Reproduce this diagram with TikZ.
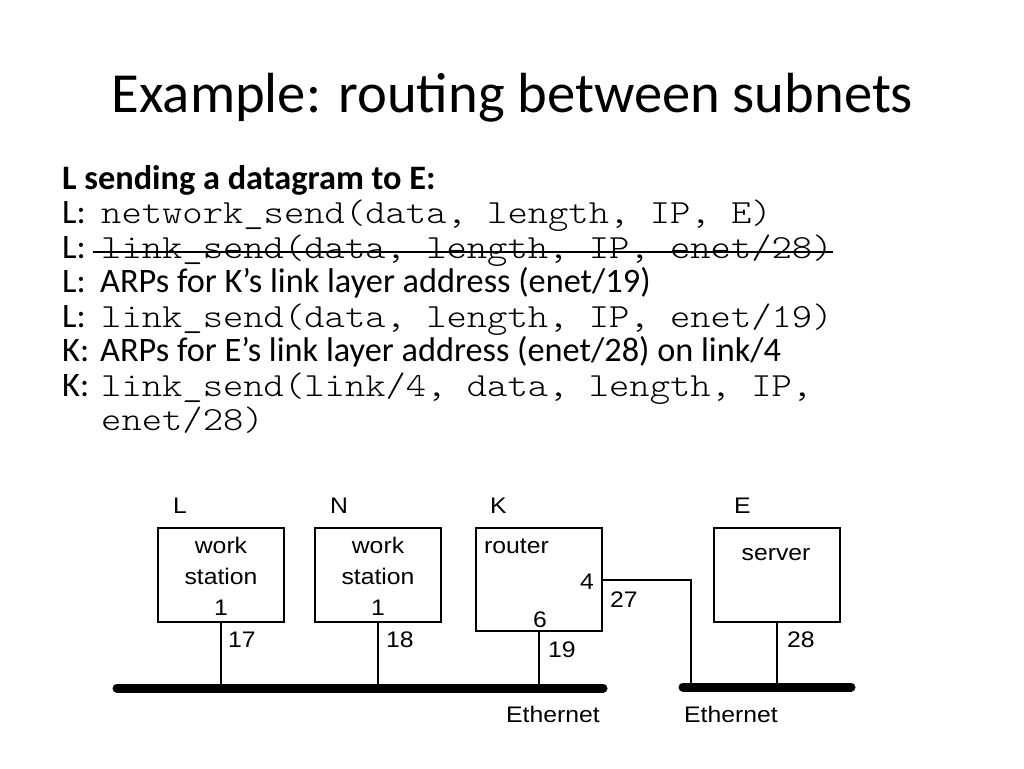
\documentclass[tikz,border=0pt]{standalone}
\usepackage{fontspec}
\setmainfont{Carlito}
\newfontfamily\monof[FakeStretch=1.145]{Latin Modern Mono Light}
\newfontfamily\diagf[FakeStretch=1.1]{Liberation Sans}
\begin{document}
\begin{tikzpicture}[x=1pt,y=-1pt,
  body/.style={anchor=base west, inner sep=0, font=\fontsize{34.3}{40}\selectfont},
  code/.style={anchor=base west, inner sep=0, font=\monof\fontsize{33.8}{40}\selectfont},
  dlab/.style={anchor=base, inner sep=0, font=\diagf\fontsize{22.5}{27}\selectfont},
  dlabw/.style={anchor=base west, inner sep=0, font=\diagf\fontsize{22.5}{27}\selectfont},
  box/.style={draw, line width=2pt, inner sep=0},
  wire/.style={line width=2pt},
  bus/.style={line width=9pt, line cap=round},
  strike/.style={line width=2.5pt}]
\useasboundingbox (0,0) rectangle (1024,768);
% title
\node[anchor=base, inner sep=0, font=\fontsize{56.6}{64}\selectfont] (title) at (512.5,112) {Example: routing between subnets};
% body
\node[body] (r1) at (62,189) {\textbf{L sending a datagram to E:}};
\node[body] (l2) at (62,223.5) {L:};
\node[code] (c2) at (101,223.5) {network\_send(data, length, IP, E)};
\node[body] (l3) at (62,258) {L:};
\node[code] (c3) at (101,258) {link\_send(data, length, IP, enet/28)};
\draw[strike] ([xshift=-8pt,yshift=6pt]c3.base west) -- ([yshift=6pt]c3.base east);
\node[body] (l4) at (62,292.5) {L:};
\node[body] (t4) at (100,292.5) {ARPs for K’s link layer address (enet/19)};
\node[body] (l5) at (62,327) {L:};
\node[code] (c5) at (101,327) {link\_send(data, length, IP, enet/19)};
\node[body] (l6) at (62,361.5) {K:};
\node[body] (t6) at (100,361.5) {ARPs for E’s link layer address (enet/28) on link/4};
\node[body] (l7) at (62,396) {K:};
\node[code] (c7) at (101,396) {link\_send(link/4, data, length, IP,};
\node[code] (c8) at (101,430.5) {enet/28)};
% diagram boxes
\node[box, minimum width=126pt, minimum height=94pt] (L) at (221,575) {};
\node[box, minimum width=126pt, minimum height=94pt] (N) at (378,575) {};
\node[box, minimum width=126pt, minimum height=103pt] (K) at (539,579.5) {};
\node[box, minimum width=126pt, minimum height=94pt] (E) at (777,575) {};
% names
\node[dlabw] (nL) at (173,513) {L};
\node[dlabw] (nN) at (330,513) {N};
\node[dlabw] (nK) at (490,513) {K};
\node[dlabw] (nE) at (734,513) {E};
% box texts
\node[dlab] (w1) at (221,553) {work};
\node[dlab] (s1) at (221,584) {station};
\node[dlab] (o1) at (221,615) {1};
\node[dlab] (w2) at (378,553) {work};
\node[dlab] (s2) at (378,584) {station};
\node[dlab] (o2) at (378,615) {1};
\node[dlabw] (rt) at (484,553) {router};
\node[dlabw] (p4) at (580,589) {4};
\node[dlabw] (p6) at (533,627) {6};
\node[dlab] (sv) at (776,560) {server};
% addresses
\node[dlabw] (a17) at (228,647) {17};
\node[dlabw] (a18) at (386,647) {18};
\node[dlabw] (a19) at (548,657) {19};
\node[dlabw] (a27) at (610,607) {27};
\node[dlabw] (a28) at (787,647) {28};
\node[dlabw] (eth1) at (506,722) {Ethernet};
\node[dlabw] (eth2) at (684,722) {Ethernet};
% buses
\coordinate (b1s) at (117,688);
\coordinate (b1e) at (603,688);
\coordinate (b2s) at (683,687);
\coordinate (b2e) at (851,687);
\coordinate (j) at (691,687);
\draw[bus] (b1s) -- (b1e);
\draw[bus] (b2s) -- (b2e);
% stems
\draw[wire] (L.south) -- (L.south |- b1s);
\draw[wire] (N.south) -- (N.south |- b1s);
\draw[wire] (K.south) -- (K.south |- b1s);
\draw[wire] (E.south) -- (E.south |- b2s);
\draw[wire] (K.east) -| (j);
\end{tikzpicture}
\end{document}
